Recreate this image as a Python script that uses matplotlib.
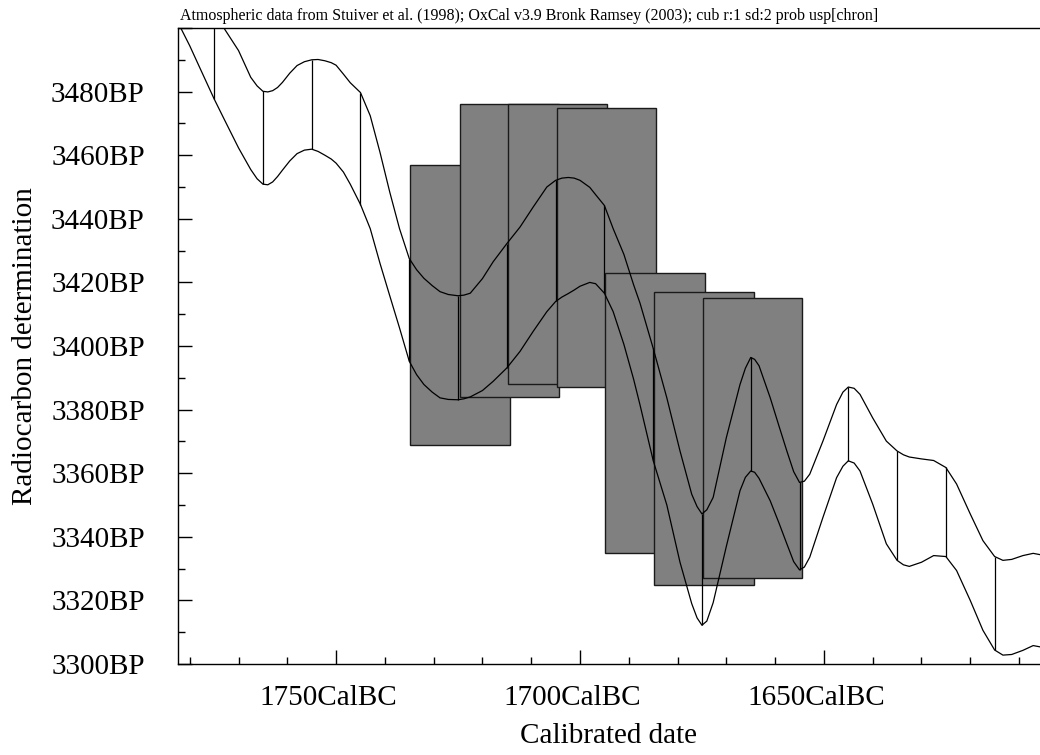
import numpy as np
import matplotlib.pyplot as plt
from matplotlib.ticker import MultipleLocator, FuncFormatter
from matplotlib.transforms import ScaledTranslation

plt.rcParams['font.family'] = ['Liberation Serif', 'DejaVu Serif']

# calibration curve band (cal years BC, upper / lower radiocarbon age in BP)
cal_years = np.array([
    1782.5, 1780, 1778, 1775, 1773, 1770, 1767.5, 1766.2, 1765, 1764, 1763,
    1762, 1761, 1759.5, 1758, 1756.5, 1755, 1753.7, 1752.3, 1751, 1750, 1748.5,
    1747.1, 1745, 1743, 1741, 1739, 1737, 1735, 1733.5, 1732, 1730.3, 1728.7,
    1727, 1725, 1723.8, 1722.5, 1720, 1717.8, 1715, 1712.3, 1709.6, 1706.8,
    1705, 1703.7, 1702.4, 1701.2, 1700, 1698, 1696.8, 1695, 1693.2, 1691, 1689,
    1687.7, 1685, 1682.2, 1679.5, 1677.1, 1676, 1675, 1674, 1672.7, 1670,
    1667.2, 1666.1, 1665, 1664.2, 1663.3, 1661, 1659.2, 1657.6, 1656.2, 1655,
    1654, 1652.9, 1650.2, 1647.4, 1646.1, 1645, 1643.8, 1642.6, 1640, 1637.2,
    1635, 1633.7, 1632.5, 1630, 1627.5, 1625, 1622.8, 1620, 1617.4, 1615,
    1613.3, 1611.5, 1609.2, 1607.1, 1605.7])
curve_upper = np.array([
    3509, 3508, 3506.5, 3503, 3500, 3492.9, 3484.5, 3481.8, 3480.1, 3479.9, 3480.3,
    3481.3, 3482.9, 3485.8, 3488.2, 3489.4, 3490.0, 3490.1, 3489.7, 3489.1, 3488.3, 3485.5,
    3482.8, 3479.7, 3472.4, 3460.9, 3448.4, 3436.9, 3427.5, 3424.0, 3421.3, 3419.0, 3417.1,
    3416.2, 3415.8, 3416.0, 3416.6, 3421.2, 3426.5, 3432.2, 3437.4, 3443.7, 3450.0,
    3452.1, 3452.8, 3453.0, 3452.8, 3452.1, 3449.9, 3447.6, 3444.2, 3436.9, 3428.8, 3419.2,
    3413.5, 3399.3, 3383.7, 3367.0, 3353.4, 3349.5, 3347.2, 3348.5, 3352.4, 3371.2,
    3387.9, 3393.0, 3396.4, 3395.8, 3393.8, 3383.7, 3374.8, 3367.0, 3360.5, 3357.1,
    3357.5, 3359.7, 3370.1, 3381.6, 3385.5, 3387.1, 3386.7, 3384.8, 3377.4, 3370.1,
    3367.0, 3365.8, 3365.1, 3364.5, 3364.0, 3361.8, 3356.6, 3347.2, 3338.8, 3333.8,
    3332.6, 3332.9, 3334.1, 3334.8, 3334.4])
curve_lower = np.array([
    3502, 3494.4, 3487.7, 3477.7, 3471.5, 3462.3, 3455.5, 3452.6, 3450.9, 3450.7, 3451.6,
    3453.3, 3455.3, 3458.2, 3460.5, 3461.6, 3461.9, 3461.2, 3460.0, 3458.8, 3457.5, 3454.7,
    3450.9, 3444.5, 3436.9, 3426.0, 3415.8, 3405.7, 3395.2, 3391.0, 3387.9, 3385.5, 3383.7,
    3383.2, 3383.1, 3383.4, 3384.0, 3386.0, 3388.9, 3393.1, 3398.3, 3404.6, 3410.8,
    3414.0, 3415.4, 3416.5, 3417.6, 3418.8, 3420.0, 3419.6, 3416.6, 3410.8, 3400.5, 3389.5,
    3381.5, 3364.0, 3350.0, 3332.0, 3319.0, 3314.5, 3312.2, 3313.5, 3319.3, 3337.0,
    3354.5, 3358.7, 3360.7, 3360.3, 3358.4, 3351.3, 3344.3, 3337.8, 3332.2, 3329.6,
    3330.5, 3333.6, 3346.1, 3358.6, 3362.2, 3363.9, 3363.2, 3360.7, 3350.3, 3337.8,
    3332.6, 3331.2, 3330.7, 3332.0, 3334.1, 3333.8, 3329.4, 3320.0, 3310.6, 3304.4,
    3302.8, 3303.0, 3304.3, 3305.8, 3305.4])

# radiocarbon determinations (cal range BC x BP range)
box_from = [1734.8, 1724.7, 1714.75, 1704.7, 1694.8, 1684.8, 1674.7]
box_to = [1714.3, 1704.4, 1694.4, 1684.4, 1674.4, 1664.4, 1654.4]
box_high = [3457, 3476, 3476, 3475, 3423, 3417, 3415]
box_low = [3369, 3384, 3388, 3387, 3335, 3325, 3327]

title = ('Atmospheric data from Stuiver et al. (1998); OxCal v3.9 Bronk Ramsey (2003); '
         'cub r:1 sd:2 prob usp[chron]')

fig = plt.figure(figsize=(10.4, 7.55), dpi=100)
ax = fig.add_axes([0.1712, 0.1205, 0.8288, 0.8424])

for i in range(len(box_from)):
    ax.bar(box_to[i], box_high[i] - box_low[i], width=box_from[i] - box_to[i],
           bottom=box_low[i], align='edge', color='#808080',
           edgecolor='#1a1a1a', linewidth=1.0, zorder=2)

ax.plot(cal_years, curve_upper, color='black', lw=0.9, zorder=3,
        solid_joinstyle='round')
ax.plot(cal_years, curve_lower, color='black', lw=0.9, zorder=3,
        solid_joinstyle='round')

# vertical bars at the decadal points
dec = np.isclose(np.mod(cal_years, 10), 5)
ax.vlines(cal_years[dec], curve_lower[dec], curve_upper[dec],
          color='black', lw=0.9, zorder=3)

ax.set_xlim(1782.4, 1605.7)
ax.set_ylim(3300, 3500)

ax.xaxis.set_major_locator(MultipleLocator(50))
ax.xaxis.set_minor_locator(MultipleLocator(10))
ax.yaxis.set_major_locator(MultipleLocator(20))
ax.yaxis.set_minor_locator(MultipleLocator(10))
ax.xaxis.set_major_formatter(FuncFormatter(lambda v, p: f'{v:.0f}CalBC'))
ax.yaxis.set_major_formatter(
    FuncFormatter(lambda v, p: f'{v:.0f}BP' if v < 3499 else ''))

ax.tick_params(which='both', direction='in', width=1.0, color='black',
               labelsize=21, top=False, right=False)
ax.tick_params(which='major', length=10)
ax.tick_params(which='minor', length=5)
ax.tick_params(axis='y', pad=24)
ax.tick_params(axis='x', pad=15)

# x labels sit a little left of their ticks
shift = ScaledTranslation(-8 / 100, 0, fig.dpi_scale_trans)
for lbl in ax.get_xticklabels():
    lbl.set_transform(lbl.get_transform() + shift)

ax.spines['right'].set_visible(False)
for s in ['left', 'bottom', 'top']:
    ax.spines[s].set_linewidth(1.0)

fig.text(0.173, 0.9735, title, fontsize=11.5, va='baseline', ha='left')
fig.text(25 / 1040, 0.5417, 'Radiocarbon determination', rotation=90,
         fontsize=21, ha='center', va='center')
fig.text(609 / 1040, 1 - 736 / 755, 'Calibrated date', fontsize=21,
         ha='center', va='center')

fig.savefig('out.png', dpi=100)
